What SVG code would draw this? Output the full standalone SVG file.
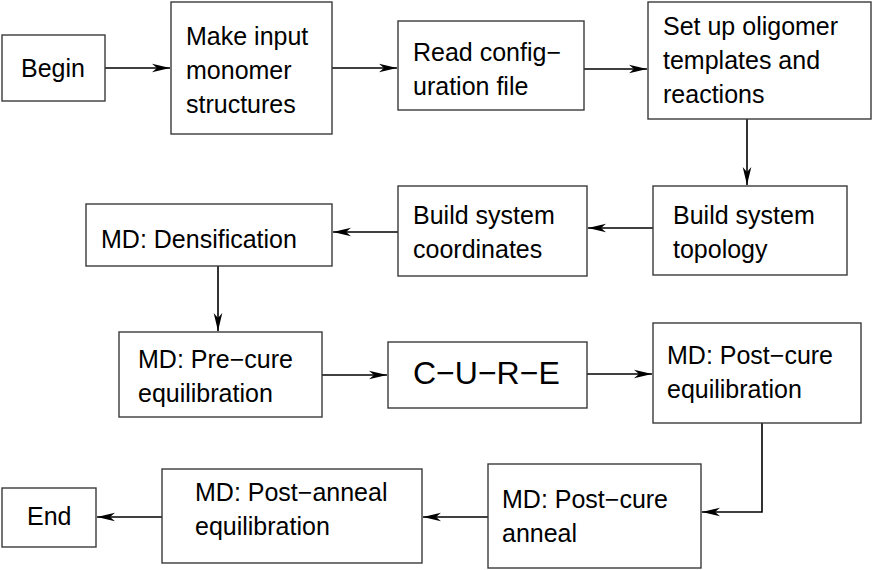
<svg xmlns="http://www.w3.org/2000/svg" width="873" height="570" viewBox="0 0 873 570">
<style>
.box{fill:#fff;stroke:#3a3a3a;stroke-width:1.4}
.t{font-family:"Liberation Sans",Arial,sans-serif;font-size:25px;fill:#000}
.big{font-size:32px}
.c{fill:none;stroke:#000;stroke-width:1.6;marker-end:url(#ah)}
</style>
<defs>
<marker id="ah" markerUnits="userSpaceOnUse" viewBox="-19 -6 20 12" refX="0" refY="0" markerWidth="20" markerHeight="12" orient="auto">
<path d="M0,0 L-18,-4.3 L-13,0 L-18,4.3 Z" fill="#000"/>
</marker>
</defs>
<rect width="873" height="570" fill="#fff"/>
<g id="connectors">
<path class="c" d="M105,68 H170"/>
<path class="c" d="M332,68 H397"/>
<path class="c" d="M584,69 H647"/>
<path class="c" d="M747,119 V185"/>
<path class="c" d="M653,228 H588"/>
<path class="c" d="M398,232 H333"/>
<path class="c" d="M218,266 V331"/>
<path class="c" d="M322,375 H387"/>
<path class="c" d="M587,374 H652"/>
<path class="c" d="M762,423 V512 H702"/>
<path class="c" d="M488,517 H423"/>
<path class="c" d="M162,517 H97"/>
</g>
<g id="begin"><rect class="box" x="2" y="35" width="103" height="66"/><text class="t" x="21" y="77">Begin</text></g>
<g id="make-input"><rect class="box" x="171" y="2" width="161" height="132"/><text class="t" x="186" y="45">Make input</text><text class="t" x="186" y="79">monomer</text><text class="t" x="186" y="113">structures</text></g>
<g id="read-config"><rect class="box" x="398" y="21" width="186" height="89"/><text class="t" x="413" y="61">Read config−</text><text class="t" x="413" y="95">uration file</text></g>
<g id="setup"><rect class="box" x="648" y="2" width="223" height="117"/><text class="t" x="663" y="35">Set up oligomer</text><text class="t" x="663" y="69">templates and</text><text class="t" x="663" y="103">reactions</text></g>
<g id="topology"><rect class="box" x="653" y="186" width="194" height="89"/><text class="t" x="673" y="224">Build system</text><text class="t" x="673" y="258">topology</text></g>
<g id="coordinates"><rect class="box" x="398" y="186" width="189" height="90"/><text class="t" x="413" y="224">Build system</text><text class="t" x="413" y="258">coordinates</text></g>
<g id="densification"><rect class="box" x="86" y="204" width="246" height="62"/><text class="t" x="101" y="248">MD: Densification</text></g>
<g id="precure"><rect class="box" x="119" y="332" width="203" height="85"/><text class="t" x="138" y="368">MD: Pre−cure</text><text class="t" x="138" y="402">equilibration</text></g>
<g id="cure"><rect class="box" x="388" y="342" width="199" height="66"/><text class="t big" x="413" y="384">C−U−R−E</text></g>
<g id="postcure-eq"><rect class="box" x="653" y="323" width="208" height="100"/><text class="t" x="667" y="364">MD: Post−cure</text><text class="t" x="667" y="398">equilibration</text></g>
<g id="postcure-anneal"><rect class="box" x="488" y="464" width="213" height="104"/><text class="t" x="502" y="508">MD: Post−cure</text><text class="t" x="502" y="542">anneal</text></g>
<g id="postanneal-eq"><rect class="box" x="162" y="469" width="260" height="94"/><text class="t" x="195" y="501">MD: Post−anneal</text><text class="t" x="195" y="535">equilibration</text></g>
<g id="end"><rect class="box" x="2" y="488" width="94" height="59"/><text class="t" x="27" y="525">End</text></g>
</svg>
